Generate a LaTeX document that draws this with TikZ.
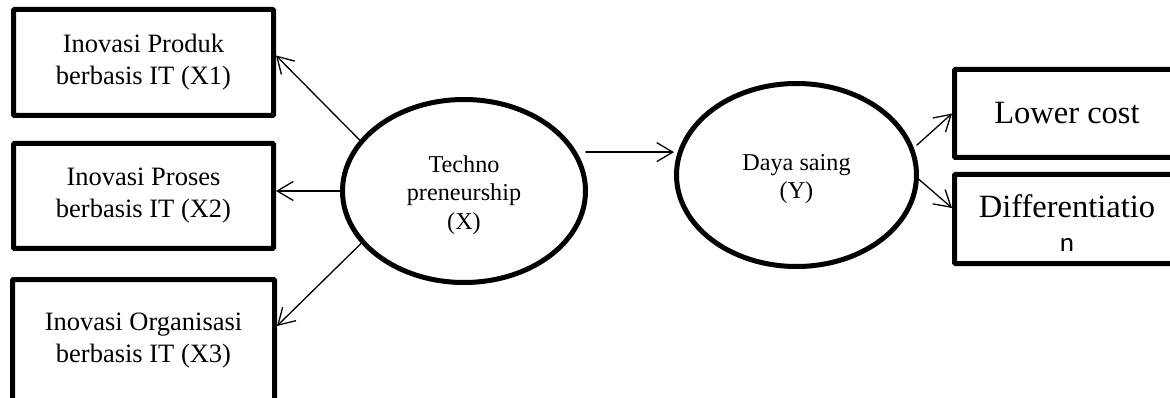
\documentclass[tikz,border=0pt]{standalone}
\usepackage{fontspec}
\setmainfont{Liberation Serif}
\newfontfamily\calibrifont{Carlito}
\usetikzlibrary{shapes.geometric,arrows.meta}

\tikzset{
  indicator/.style={draw, line width=5pt, rectangle, rounded corners=1pt,
    inner sep=0pt, align=center},
  construct/.style={draw, line width=5pt, ellipse, inner sep=0pt},
  constructtext/.style={inner sep=0pt, align=center,
    font=\fontsize{24.2}{28.5}\selectfont},
  lefttext/.style={font=\fontsize{26.5}{32}\selectfont},
  righttext/.style={font=\fontsize{32.5}{34.5}\selectfont},
  link/.style={line width=1.3pt, line cap=round,
    -{Straight Barb[length=16pt,width=19pt,line width=1.3pt]}},
}

\begin{document}
\begin{tikzpicture}[x=1pt, y=-1pt]
  \useasboundingbox (0,0) rectangle (1170,398);
  \clip (0,0) rectangle (1170,398);

  % indicator boxes of the exogenous construct
  \node[indicator, lefttext, minimum width=260pt, minimum height=106pt]
    (x1) at (143.5,62.5) {Inovasi Produk\\berbasis IT (X1)};
  \node[indicator, lefttext, minimum width=260pt, minimum height=105pt]
    (x2) at (143.5,196) {Inovasi Proses\\berbasis IT (X2)};
  \node[indicator, lefttext, minimum width=262pt, minimum height=122pt]
    (x3) at (143.5,340.5) {Inovasi Organisasi\\berbasis IT (X3)};

  % latent constructs
  \node[construct, minimum width=243pt, minimum height=183pt]
    (tp) at (464,191) {};
  \node[constructtext] (tplabel) at ([yshift=-4pt]tp.center)
    {Techno\\preneurship\\(X)};
  \node[construct, minimum width=240pt, minimum height=183pt]
    (ds) at (796.5,175) {};
  \node[constructtext] (dslabel) at ([yshift=-4pt]ds.center)
    {Daya saing\\(Y)};

  % indicator boxes of the endogenous construct
  \node[indicator, righttext, minimum width=225pt, minimum height=88pt]
    (lc) at (1067,113.5) {Lower cost};
  \node[indicator, minimum width=225pt, minimum height=89pt]
    (df) at (1067,219) {};
  \node[righttext, inner sep=0pt, align=center] (dflabel)
    at ([yshift=-4pt]df.center)
    {Differentiatio\\{\calibrifont\fontsize{27}{34.5}\selectfont n}};

  % loadings and structural path
  \draw[link] (tp.154) -- ([yshift=7pt]x1.east);
  \draw[link] (tp.west) -- (tp.west -| x2.east);
  \draw[link] (tp.207) -- ([yshift=-49pt]x3.north east);
  \draw[link, shorten <=9pt] (tp.19) -- (tp.19 -| ds.west);
  \draw[link, shorten <=4pt] (ds.13) -- (lc.west);
  \draw[link] (ds.-2) -- ([yshift=11pt]df.west);
\end{tikzpicture}
\end{document}
